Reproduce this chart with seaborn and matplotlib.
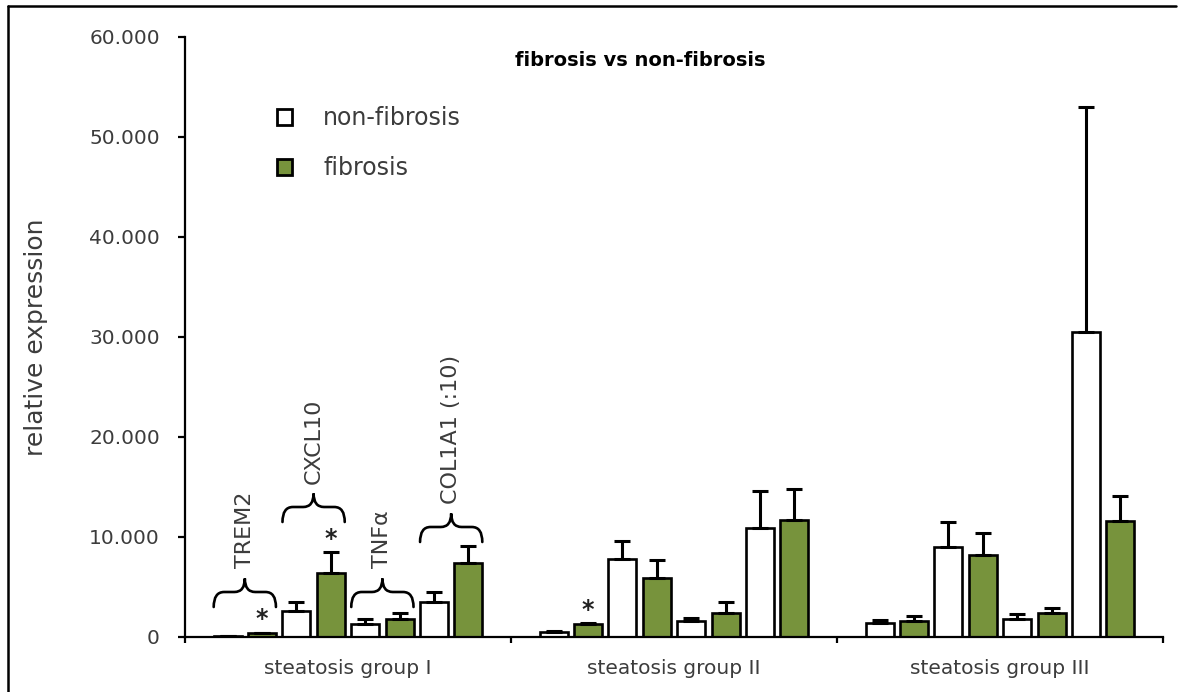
import numpy as np
import pandas as pd
import matplotlib
matplotlib.use("Agg")
import matplotlib.pyplot as plt
import seaborn as sns
from matplotlib.path import Path
from matplotlib.patches import PathPatch, Patch
from matplotlib.lines import Line2D

# ---- data -------------------------------------------------------------
groups = ["steatosis group I", "steatosis group II", "steatosis group III"]
genes = ["TREM2", "CXCL10", "TNF\u03b1", "COL1A1 (:10)"]
conditions = ["non-fibrosis", "fibrosis"]

# mean relative expression, one list per group, genes in order
nonfib_mean = [
    [0.1, 2.6, 1.3, 3.5],
    [0.5, 7.8, 1.6, 10.9],
    [1.4, 9.0, 1.8, 30.5],
]
fib_mean = [
    [0.45, 6.4, 1.8, 7.4],
    [1.3, 5.9, 2.4, 11.7],
    [1.6, 8.2, 2.4, 11.6],
]
# upper error (SEM)
nonfib_err = [
    [0.0, 0.9, 0.5, 1.0],
    [0.15, 1.8, 0.3, 3.7],
    [0.35, 2.5, 0.5, 22.5],
]
fib_err = [
    [0.0, 2.1, 0.6, 1.7],
    [0.1, 1.8, 1.1, 3.1],
    [0.5, 2.2, 0.5, 2.5],
]

# significance marks: (group index, gene index, condition index)
stars = [(0, 0, 1), (0, 1, 1), (1, 0, 1)]

# gene braces drawn over group I: baseline of each brace
brace_base = [3.0, 11.5, 3.0, 9.5]

yticks = [0, 10, 20, 30, 40, 50, 60]
ytick_labels = ["0", "10.000", "20.000", "30.000", "40.000", "50.000", "60.000"]

# ---- long table -------------------------------------------------------
rows = []
for gi, g in enumerate(groups):
    for ki, gene in enumerate(genes):
        rows.append((g, f"{gene} {conditions[0]}", nonfib_mean[gi][ki], nonfib_err[gi][ki]))
        rows.append((g, f"{gene} {conditions[1]}", fib_mean[gi][ki], fib_err[gi][ki]))
df = pd.DataFrame(rows, columns=["group", "series", "value", "err"])
series_order = [f"{gene} {c}" for gene in genes for c in conditions]

WHITE = "#ffffff"
GREEN = "#77933c"
TEXT = "#3c3c3c"

sns.set_style("white")
plt.rcParams["font.family"] = ["DejaVu Sans"]

fig = plt.figure(figsize=(11.81, 6.92), dpi=100)
W, H = 1181, 692
ax = fig.add_axes([185 / W, 1 - 637 / H, 978 / W, 600 / H])

sns.barplot(
    data=df, x="group", y="value", hue="series",
    order=groups, hue_order=series_order,
    palette=[WHITE, GREEN] * len(genes), saturation=1,
    width=0.844, gap=0.19, edgecolor="black", linewidth=1.9,
    errorbar=None, legend=False, ax=ax, zorder=2,
)

# upward-only error bars on top of each bar
err_map = df.set_index(["group", "series"])["err"]
xs, hs, es = [], [], []
bar_pos = {}
for si, cont in enumerate(ax.containers):
    for gi, bar in enumerate(cont):
        x = bar.get_x() + bar.get_width() / 2
        h = bar.get_height()
        e = err_map[(groups[gi], series_order[si])]
        xs.append(x); hs.append(h); es.append(e)
        bar_pos[(gi, si)] = (bar.get_x(), bar.get_width(), h, e)
ax.errorbar(xs, hs, yerr=[np.zeros(len(es)), es], fmt="none",
            ecolor="black", elinewidth=2.2, capsize=5.5, capthick=2.2, zorder=3)

# significance stars
for gi, ki, ci in stars:
    bx, bw, h, e = bar_pos[(gi, 2 * ki + ci)]
    ax.text(bx + bw / 2, h + e + 0.6, "*", ha="center", va="baseline",
            fontsize=17, fontweight="bold", color="#222222", zorder=4)

# curly braces with gene names above the group I bars
def brace(x0, x1, yb, ax):
    xc = (x0 + x1) / 2
    q = 0.032
    ym = yb + 1.5
    yt = yb + 2.85
    verts = [(x0, yb), (x0, ym), (x0 + q, ym),
             (xc - q, ym),
             (xc, ym), (xc, yt),
             (xc, ym), (xc + q, ym),
             (x1 - q, ym),
             (x1, ym), (x1, yb)]
    codes = [Path.MOVETO, Path.CURVE3, Path.CURVE3,
             Path.LINETO,
             Path.CURVE3, Path.CURVE3,
             Path.CURVE3, Path.CURVE3,
             Path.LINETO,
             Path.CURVE3, Path.CURVE3]
    ax.add_patch(PathPatch(Path(verts, codes), fill=False, lw=1.9,
                           edgecolor="black", capstyle="round", zorder=4))
    return xc, yt

for ki, gene in enumerate(genes):
    lx, lw_, _, _ = bar_pos[(0, 2 * ki)]
    rx, rw, _, _ = bar_pos[(0, 2 * ki + 1)]
    xc, yt = brace(lx, rx + rw, brace_base[ki], ax)
    ax.text(xc, yt + 1.0, gene, rotation=90, ha="center", va="bottom",
            fontsize=16, color=TEXT, zorder=4)

# ---- axes styling -----------------------------------------------------
ax.set_xlim(-0.5, 2.5)
ax.set_ylim(0, 60)
for s in ["top", "right"]:
    ax.spines[s].set_visible(False)
for s in ["left", "bottom"]:
    ax.spines[s].set_color("black")
    ax.spines[s].set_linewidth(1.6)

ax.set_yticks(yticks)
ax.set_yticklabels(ytick_labels)
ax.tick_params(axis="y", direction="out", length=5, width=1.6, color="black",
               pad=13, labelsize=14.5, labelcolor=TEXT, left=True)
ax.set_xticks(range(len(groups)))
ax.set_xticklabels(groups)
ax.set_xticks([-0.5, 0.5, 1.5, 2.5], minor=True)
ax.tick_params(axis="x", which="major", length=0, pad=16, labelsize=14.5, labelcolor=TEXT)
ax.tick_params(axis="x", which="minor", direction="out", length=4.5, width=1.6,
               color="black", bottom=True)
ax.set_xlabel("")
ax.set_ylabel("relative expression", fontsize=18, color=TEXT)
ax.yaxis.set_label_coords(-0.14, 0.5)

fig.text(640 / W, 1 - 60 / H, "fibrosis vs non-fibrosis", ha="center", va="center",
         fontsize=14, fontweight="bold", color="black")

handles = [Patch(facecolor=WHITE, edgecolor="black", linewidth=2.0),
           Patch(facecolor=GREEN, edgecolor="black", linewidth=2.0)]
fig.legend(handles, conditions, loc="upper left",
           bbox_to_anchor=(277 / W, 1 - 106 / H), bbox_transform=fig.transFigure,
           frameon=False, fontsize=17, handlelength=0.65, handleheight=0.65,
           handletextpad=1.3, labelspacing=1.12, borderpad=0, borderaxespad=0,
           labelcolor=TEXT)

# outer frame of the panel
fig.add_artist(Line2D([8 / W, 8 / W], [0, 1 - 6 / H], transform=fig.transFigure,
                      color="black", lw=1.8))
fig.add_artist(Line2D([8 / W, 1176 / W], [1 - 6 / H, 1 - 6 / H], transform=fig.transFigure,
                      color="black", lw=1.8))

fig.savefig("out.png", dpi=100)
